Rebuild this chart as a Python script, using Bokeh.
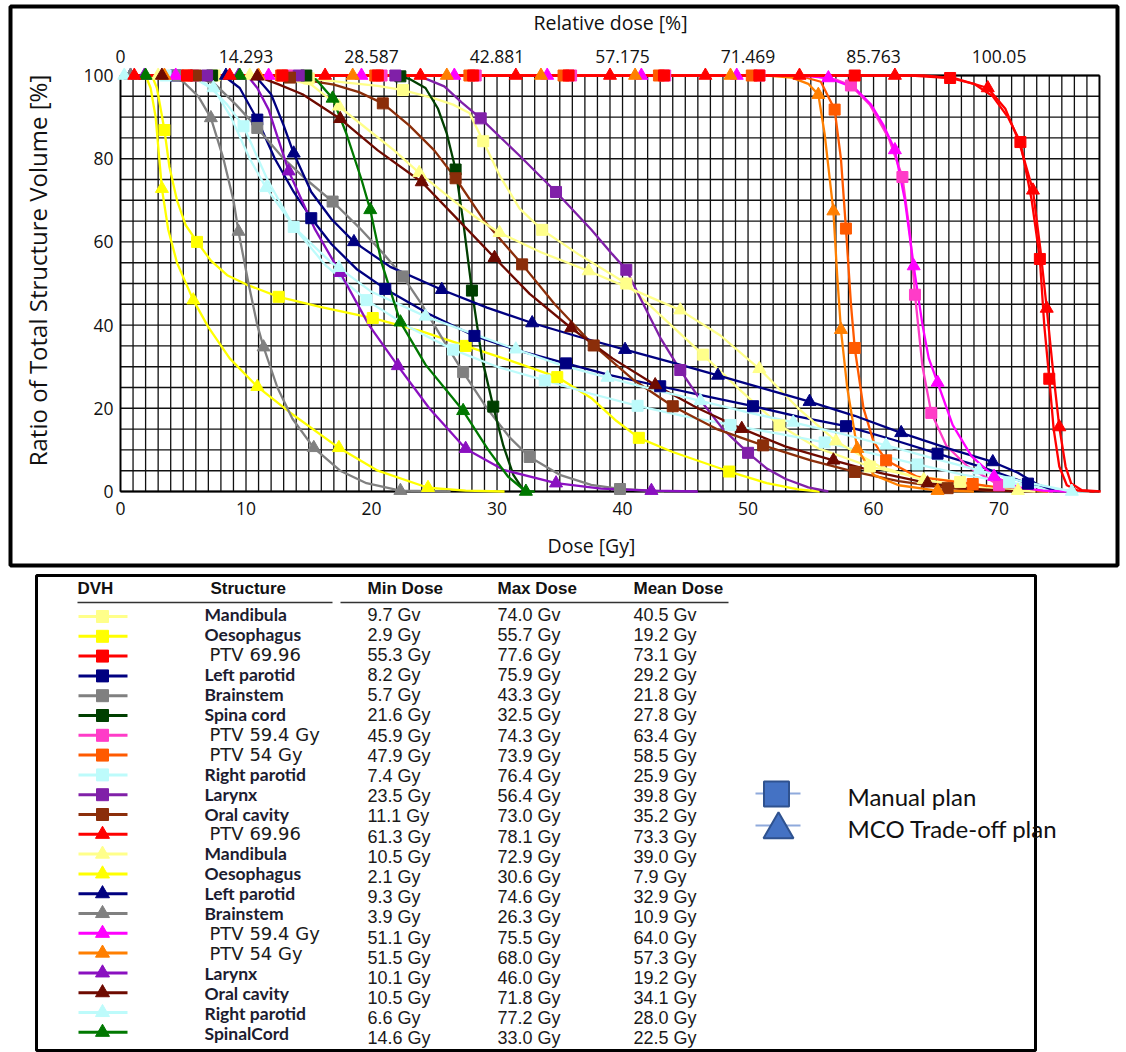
import numpy as np
from bokeh.plotting import figure
from bokeh.models import Range1d
from bokeh.core.properties import value
from bokeh.embed import file_html
from bokeh.resources import INLINE

# ---------------- chart values ----------------
DOSE_TICKS = [0, 10, 20, 30, 40, 50, 60, 70]
REL_DOSE_LABELS = ["0", "14.293", "28.587", "42.881", "57.175", "71.469", "85.763", "100.05"]
VOL_TICKS = [0, 20, 40, 60, 80, 100]
DOSE_MAX = 78
GRID_DOSE_STEP = 1
GRID_VOL_STEP = 5

STRUCTURES = ["Mandibula", "Oesophagus", "PTV 69.96", "Left parotid", "Brainstem", "Spina cord",
              "PTV 59.4 Gy", "PTV 54 Gy", "Right parotid", "Larynx", "Oral cavity",
              "PTV 69.96", "Mandibula", "Oesophagus", "Left parotid", "Brainstem", "PTV 59.4 Gy",
              "PTV 54 Gy", "Larynx", "Oral cavity", "Right parotid", "SpinalCord"]
PLANS = ["Manual"] * 11 + ["MCO"] * 11
MIN_DOSE = ["9.7 Gv", "2.9 Gy", "55.3 Gy", "8.2 Gy", "5.7 Gy", "21.6 Gy", "45.9 Gy", "47.9 Gy",
            "7.4 Gy", "23.5 Gy", "11.1 Gy", "61.3 Gy", "10.5 Gy", "2.1 Gy", "9.3 Gy", "3.9 Gy",
            "51.1 Gy", "51.5 Gy", "10.1 Gy", "10.5 Gy", "6.6 Gy", "14.6 Gy"]
MAX_DOSE = ["74.0 Gv", "55.7 Gy", "77.6 Gy", "75.9 Gy", "43.3 Gy", "32.5 Gy", "74.3 Gy", "73.9 Gy",
            "76.4 Gy", "56.4 Gy", "73.0 Gy", "78.1 Gy", "72.9 Gy", "30.6 Gy", "74.6 Gy", "26.3 Gy",
            "75.5 Gy", "68.0 Gy", "46.0 Gy", "71.8 Gy", "77.2 Gy", "33.0 Gy"]
MEAN_DOSE = ["40.5 Gv", "19.2 Gy", "73.1 Gy", "29.2 Gy", "21.8 Gy", "27.8 Gy", "63.4 Gy", "58.5 Gy",
             "25.9 Gy", "39.8 Gy", "35.2 Gy", "73.3 Gy", "39.0 Gy", "7.9 Gy", "32.9 Gy", "10.9 Gy",
             "64.0 Gy", "57.3 Gy", "19.2 Gy", "34.1 Gy", "28.0 Gy", "22.5 Gy"]
COLORS = ["#FFFF8A", "#FFFF00", "#FF0000", "#000080", "#808080", "#003F00", "#FF3CC8", "#FF5A00",
          "#BDFBFB", "#8020A8", "#8B2E0A",
          "#FF0000", "#FFFF8A", "#FFFF00", "#000080", "#808080", "#FF00FF", "#FF7F00",
          "#8A10C0", "#6E0A00", "#BDFBFB", "#007800"]

# DVH curves: (dose Gy, volume %)  -- manual plan
man_mandibula = [(0, 100), (12, 100), (15, 99.3), (18, 98.3), (20.5, 97.5), (22.5, 96.5), (25, 94.5),
                 (26.5, 93), (27.8, 91), (28.9, 84.2), (30.2, 76), (31.8, 68), (33.6, 62.9), (36.5, 57),
                 (40.3, 50.0), (43.5, 41), (46.4, 32.9), (49.5, 24), (52.5, 15.9), (55.5, 10.5),
                 (59.7, 6), (63, 3.8), (66.9, 2.3), (70.5, 0.6), (74.0, 0)]
man_mandibula_mk = [(7.5, 100), (15.0, 99.3), (22.5, 96.5), (28.9, 84.2), (33.6, 62.9), (40.3, 50.0),
                    (46.4, 32.9), (52.5, 15.9), (59.7, 6.0), (66.9, 2.3)]
man_oesophagus = [(0, 100), (2.5, 100), (2.9, 97), (3.2, 92), (3.5, 86.9), (3.9, 78), (4.5, 70), (5.2, 64),
                  (6.1, 60.0), (7.2, 55.5), (8.5, 52), (10, 49.8), (12.6, 46.8), (16, 44.3), (20.1, 41.7),
                  (24, 38.5), (27.5, 35.0), (31, 31.5), (34.8, 27.5), (37.5, 22.5), (39.5, 17),
                  (41.3, 12.9), (44, 9.5), (48.5, 4.8), (51.5, 2), (54, 0.5), (55.7, 0)]
man_oesophagus_mk = [(3.5, 86.9), (6.1, 60.0), (12.6, 46.8), (20.1, 41.7), (27.5, 35.0), (34.8, 27.5),
                     (41.3, 12.9), (48.5, 4.8)]
man_ptv70 = [(0, 100), (63, 100), (66.1, 99.4), (68, 98), (69.5, 95), (70.7, 90), (71.7, 84.0), (72.6, 70),
             (73.25, 55.9), (73.6, 40), (74.0, 27.1), (74.35, 15), (74.8, 6), (75.4, 1.5), (76.3, 0.2),
             (77.6, 0)]
man_ptv70_mk = [(5.3, 100), (12.9, 100), (20.5, 100), (28.1, 100), (35.7, 100), (43.3, 100), (50.9, 100),
                (58.5, 100), (66.1, 99.4), (71.7, 84.0), (73.25, 55.9), (74.0, 27.1)]
man_lparotid = [(0, 100), (8.2, 100), (9.5, 97), (10.9, 89.4), (12.3, 80), (13.8, 72), (15.2, 65.7),
                (16.8, 59.5), (18.8, 53.5), (21.1, 48.7), (24.5, 42.8), (28.2, 37.4), (31.8, 33.8),
                (35.5, 30.8), (39, 28), (43.0, 25.3), (46.8, 22.8), (50.4, 20.5), (54, 18), (57.8, 15.7),
                (61.5, 12.5), (65.1, 9.1), (68.7, 5.8), (72.3, 1.9), (74.3, 0.4), (75.9, 0)]
man_lparotid_mk = [(4.4, 100), (10.9, 89.4), (15.2, 65.7), (21.1, 48.7), (28.2, 37.4), (35.5, 30.8),
                   (43.0, 25.3), (50.4, 20.5), (57.8, 15.7), (65.1, 9.1), (72.3, 1.9)]
man_brainstem = [(0, 100), (5.7, 100), (7.5, 98), (9.2, 93), (10.9, 87.4), (13, 80), (14.8, 75), (16.9, 69.7),
                 (19, 63.5), (21, 57), (22.5, 51.7), (24, 45), (25.6, 37), (27.3, 28.7), (29.2, 20),
                 (31, 13), (32.6, 8.3), (35, 4), (37.5, 1.6), (39.8, 0.6), (43.3, 0)]
man_brainstem_mk = [(4.6, 100), (10.9, 87.4), (16.9, 69.7), (22.5, 51.7), (27.3, 28.7), (32.6, 8.3),
                    (39.8, 0.6)]
man_spinalcord = [(0, 100), (21.6, 100), (23, 99.2), (24.3, 97), (25.3, 92), (26, 86), (26.7, 77.4),
                  (27.3, 65), (28.0, 48.3), (28.8, 32), (29.7, 20.4), (30.5, 11), (31.3, 4), (32, 0.8),
                  (32.5, 0)]
man_spinalcord_mk = [(7.3, 100), (14.8, 100), (22.3, 99.8), (26.7, 77.4), (28.0, 48.3), (29.7, 20.4)]
man_ptv59 = [(0, 100), (55, 100), (57, 99), (58.2, 97.6), (59.7, 93), (61.2, 85), (62.3, 75.6), (62.9, 62),
             (63.3, 47.3), (63.9, 30), (64.6, 18.9), (65.8, 11), (67.5, 6), (70.0, 1.5), (72.5, 0.3),
             (74.3, 0)]
man_ptv59_mk = [(5.8, 100), (13.3, 100), (20.8, 100), (28.3, 100), (35.9, 100), (43.4, 100), (50.9, 100),
                (58.2, 97.6), (62.3, 75.6), (63.3, 47.3), (64.6, 18.9), (70.0, 1.5)]
man_ptv54 = [(0, 100), (54, 100), (55.8, 98.5), (56.9, 91.8), (57.4, 80), (57.8, 63.2), (58.2, 45),
             (58.5, 34.5), (59.2, 20), (60, 12), (61.0, 7.5), (63.5, 3.5), (67.9, 1.8), (71, 0.5), (73.9, 0)]
man_ptv54_mk = [(5.3, 100), (12.8, 100), (20.3, 100), (27.8, 100), (35.3, 100), (42.9, 100), (50.3, 100),
                (56.9, 91.8), (57.8, 63.2), (58.5, 34.5), (61.0, 7.5), (67.9, 1.8)]
man_rparotid = [(0, 100), (5.5, 100), (7.2, 97), (8.5, 93), (9.8, 87.8), (11.7, 75), (13.8, 63.6),
                (16.3, 54.5), (19.6, 46.0), (23, 39.5), (26.5, 34.1), (30, 30), (33.8, 26.7), (37.5, 23.5),
                (41.2, 20.6), (44.8, 18.2), (48.6, 16.0), (52.4, 13.9), (56.1, 11.8), (59.8, 9.2),
                (63.5, 6.5), (67.2, 4), (70.8, 2.2), (74, 0.6), (76.4, 0)]
man_rparotid_mk = [(3.6, 100), (9.8, 87.8), (13.8, 63.6), (19.6, 46.0), (26.5, 34.1), (33.8, 26.7),
                   (41.2, 20.6), (48.6, 16.0), (56.1, 11.8), (63.5, 6.5), (70.8, 2.2)]
man_larynx = [(0, 100), (23.5, 100), (24.5, 99), (25.8, 97.4), (27.2, 93.5), (28.7, 89.7), (31.7, 81),
              (34.7, 72.0), (37.5, 63), (39.2, 57), (40.3, 53.3), (41.5, 46), (43, 37), (44.6, 29.2),
              (46.2, 22), (48, 15), (50.0, 9.3), (51.5, 5.5), (53, 3), (54.8, 1), (56.4, 0)]
man_larynx_mk = [(6.9, 100), (14.2, 100), (21.9, 100), (28.7, 89.7), (34.7, 72.0), (40.3, 53.3),
                 (44.6, 29.2), (50.0, 9.3)]
man_oralcavity = [(0, 100), (11.1, 100), (13.5, 99.5), (17, 97.8), (19, 96), (20.9, 93.3), (23, 88), (25, 82),
                  (26.7, 75.3), (29, 65), (32.0, 54.6), (34.6, 45), (37.7, 35.1), (40.8, 27), (44.0, 20.5),
                  (47.5, 15), (51.2, 11.1), (55, 7.5), (58.5, 4.7), (62, 2.5), (65.9, 0.8), (69, 0.2),
                  (73.0, 0)]
man_oralcavity_mk = [(6.0, 100), (13.5, 99.5), (20.9, 93.3), (26.7, 75.3), (32.0, 54.6), (37.7, 35.1),
                     (44.0, 20.5), (51.2, 11.1), (58.5, 4.7), (65.9, 0.8)]

# -- MCO trade-off plan
mco_ptv70 = [(0, 100), (64, 100), (66.5, 99.3), (69.1, 97), (70.5, 92), (71.6, 84), (72.7, 72.4), (73.3, 58),
             (73.8, 44), (74.3, 29), (74.8, 15.5), (75.3, 6), (75.75, 1.9), (76.6, 0.3), (78.1, 0)]
mco_ptv70_mk = [(1.1, 100), (8.7, 100), (16.3, 100), (23.9, 100), (31.5, 100), (39.0, 100), (46.6, 100),
                (54.1, 100), (61.7, 100), (69.1, 97), (72.7, 72.4), (73.8, 44), (74.8, 15.5)]
mco_mandibula = [(0, 100), (10.5, 100), (13, 99.3), (15.2, 97.8), (17.4, 92.6), (19.5, 87.5), (21.8, 82),
                 (23.8, 76.6), (26.5, 70), (28.5, 65.5), (30.2, 62.2), (33.5, 57.5), (37.3, 53.0),
                 (41, 48.3), (44.6, 43.6), (47.8, 37.5), (50.9, 29.5), (54, 20), (57.0, 12.1), (60.5, 6),
                 (64.0, 2.8), (68, 1), (71.5, 0.2), (72.9, 0)]
mco_mandibula_mk = [(3.0, 100), (10.3, 100), (17.4, 92.6), (23.8, 76.6), (30.2, 62.2), (37.3, 53.0),
                    (44.6, 43.6), (50.9, 29.5), (57.0, 12.1), (64.0, 2.8), (71.5, 0.2)]
mco_oesophagus = [(0, 100), (2.0, 100), (2.4, 97), (2.8, 90), (3.3, 72.8), (3.8, 63), (4.5, 55), (5.8, 46.0),
                  (7, 39.5), (8.7, 32), (10.9, 25.2), (13.5, 19), (17.4, 10.5), (20.5, 5), (24.5, 0.9),
                  (27.5, 0.2), (30.6, 0)]
mco_oesophagus_mk = [(3.3, 72.8), (5.8, 46.0), (10.9, 25.2), (17.4, 10.5), (24.5, 0.9)]
mco_lparotid = [(0, 100), (10, 100), (11, 99), (12, 95.5), (13, 88), (13.8, 81.3), (15.2, 72), (16.8, 65.5),
                (18.6, 60.0), (21.5, 54), (25.6, 48.5), (29.2, 44.2), (32.8, 40.5), (36.5, 37.2),
                (40.2, 34.1), (44, 31), (47.6, 27.9), (51.2, 24.8), (54.9, 21.6), (58.5, 18.2),
                (62.2, 14.1), (66, 10.3), (69.5, 7.1), (71.5, 4.5), (73, 1.8), (74.6, 0)]
mco_lparotid_mk = [(0.8, 100), (8.4, 100), (13.8, 81.3), (18.6, 60.0), (25.6, 48.5), (32.8, 40.5),
                   (40.2, 34.1), (47.6, 27.9), (54.9, 21.6), (62.2, 14.1), (69.5, 7.1)]
mco_brainstem = [(0, 100), (3.9, 100), (5, 98.5), (6.2, 95), (7.2, 89.8), (8.2, 80), (9.0, 70), (9.4, 62.5),
                 (10.2, 50), (10.9, 40), (11.4, 34.7), (12.5, 25), (13.7, 17.5), (15.4, 10.5), (17.5, 5),
                 (19.6, 2), (22.3, 0.2), (26.3, 0)]
mco_brainstem_mk = [(0.8, 100), (7.2, 89.8), (9.4, 62.5), (11.4, 34.7), (15.4, 10.5), (22.3, 0.2)]
mco_ptv59 = [(0, 100), (53.5, 100), (55, 99.8), (56.4, 99.4), (58.5, 97), (59.8, 93), (60.8, 88),
             (61.7, 82.1), (62.5, 70), (63.2, 54.2), (63.9, 40), (64.4, 32), (65.1, 26.2), (66.3, 16),
             (67.8, 8.5), (69.6, 3.6), (71.5, 1), (73.5, 0.2), (75.5, 0)]
mco_ptv59_mk = [(4.4, 100), (11.8, 100), (19.2, 100), (26.6, 100), (34.0, 100), (41.5, 100), (49.1, 100),
                (56.4, 99.4), (61.7, 82.1), (63.2, 54.2), (65.1, 26.2), (69.6, 3.6)]
mco_ptv54 = [(0, 100), (51.5, 100), (53.5, 99.5), (54.8, 98), (55.6, 95.4), (56.1, 86), (56.8, 67.4),
             (57.1, 52), (57.4, 38.9), (57.9, 25), (58.7, 10.3), (60, 4), (62, 1.5), (65.1, 0.2), (68.0, 0)]
mco_ptv54_mk = [(3.5, 100), (11.0, 100), (18.5, 100), (26.0, 100), (33.5, 100), (41.0, 100), (48.6, 100),
                (55.6, 95.4), (56.8, 67.4), (57.4, 38.9), (58.7, 10.3), (65.1, 0.2)]
mco_larynx = [(0, 100), (10.1, 100), (10.9, 97), (11.8, 91.8), (13.4, 77.0), (15.5, 63), (17.5, 52.6),
              (19.8, 40), (22.1, 30.2), (24.6, 20), (27.5, 10.3), (30.5, 5.2), (34.7, 2.0), (38.3, 0.7),
              (42.3, 0.2), (46.0, 0)]
mco_larynx_mk = [(1.9, 100), (9.4, 100), (13.4, 77.0), (17.5, 52.6), (22.1, 30.2), (27.5, 10.3),
                 (34.7, 2.0), (42.3, 0.2)]
mco_oralcavity = [(0, 100), (10.5, 100), (12.5, 98), (14.5, 95.5), (17.5, 89.6), (20.5, 82), (24.0, 74.4),
                  (27, 65), (29.8, 56.2), (32.6, 47.5), (35.9, 39.3), (39.2, 32), (42.6, 25.6), (46, 20),
                  (49.5, 15.1), (53, 10.8), (56.8, 7.5), (60.5, 4.5), (64.3, 2), (68, 0.6), (71.8, 0)]
mco_oralcavity_mk = [(3.3, 100), (10.9, 99.8), (17.5, 89.6), (24.0, 74.4), (29.8, 56.2), (35.9, 39.3),
                     (42.6, 25.6), (49.5, 15.1), (56.8, 7.5), (64.3, 2.0)]
mco_rparotid = [(0, 100), (5.0, 100), (6.2, 99), (7.4, 97.0), (8.8, 90), (10.3, 80), (11.6, 73.0), (14, 63),
                (16.8, 55), (20, 48), (24.3, 42.1), (28, 38), (31.5, 34.2), (35, 30.5), (38.8, 27.4),
                (42.5, 24.5), (46.2, 21.8), (50, 19), (53.6, 16.6), (57.3, 14), (61.0, 11.1), (64.7, 8),
                (68.4, 5.1), (72, 2.3), (75.8, 0), (77.2, 0)]
mco_rparotid_mk = [(0.3, 100), (7.4, 97.0), (11.6, 73.0), (17.4, 53.8), (24.3, 42.1), (31.5, 34.2),
                   (38.8, 27.4), (46.2, 21.8), (53.6, 16.6), (61.0, 11.1), (68.4, 5.1), (75.8, 0)]
mco_spinalcord = [(0, 100), (14.6, 100), (15.6, 99), (16.9, 94.5), (18, 86), (19.2, 75), (19.9, 67.7),
                  (20.8, 55), (22.3, 40.7), (24.3, 30.5), (27.3, 19.4), (29.3, 10), (30.9, 3.5), (32.3, 0),
                  (33.0, 0)]
mco_spinalcord_mk = [(2.0, 100), (9.5, 100), (16.9, 94.5), (19.9, 67.7), (22.3, 40.7), (27.3, 19.4),
                     (32.3, 0)]

CURVES = [man_mandibula, man_oesophagus, man_ptv70, man_lparotid, man_brainstem, man_spinalcord,
          man_ptv59, man_ptv54, man_rparotid, man_larynx, man_oralcavity,
          mco_ptv70, mco_mandibula, mco_oesophagus, mco_lparotid, mco_brainstem, mco_ptv59, mco_ptv54,
          mco_larynx, mco_oralcavity, mco_rparotid, mco_spinalcord]
MARKS = [man_mandibula_mk, man_oesophagus_mk, man_ptv70_mk, man_lparotid_mk, man_brainstem_mk,
         man_spinalcord_mk, man_ptv59_mk, man_ptv54_mk, man_rparotid_mk, man_larynx_mk, man_oralcavity_mk,
         mco_ptv70_mk, mco_mandibula_mk, mco_oesophagus_mk, mco_lparotid_mk, mco_brainstem_mk,
         mco_ptv59_mk, mco_ptv54_mk, mco_larynx_mk, mco_oralcavity_mk, mco_rparotid_mk, mco_spinalcord_mk]
LEGEND_LABELS = ["Manual plan", "MCO Trade-off plan"]

# ---------------- layout ----------------
W, H = 1126, 1052
X0_PX, PX_PER_GY = 120.0, 12.551     # where 0 Gy sits, pixels per Gy
Y100_PX, PX_PER_PCT = 75.0, 4.16     # where 100 % sits, pixels per %

x_start = -X0_PX / PX_PER_GY
x_end = x_start + W / PX_PER_GY
y_end = 100 + Y100_PX / PX_PER_PCT
y_start = y_end - H / PX_PER_PCT

p = figure(width=W, height=H, output_backend="svg", toolbar_location=None, title=None,
           x_range=Range1d(x_start, x_end), y_range=Range1d(y_start, y_end),
           x_axis_type=None, y_axis_type=None, min_border=0,
           outline_line_color=None, background_fill_color="white", border_fill_color="white")
p.extra_x_ranges = {"px": Range1d(0, W)}
p.extra_y_ranges = {"px": Range1d(H, 0)}

AX_FONT = value("Open Sans")
PX = dict(x_range_name="px", y_range_name="px")

# outer frame of the DVH panel
p.quad(left=[10], right=[1117], top=[6], bottom=[565], fill_color=None,
       line_color="black", line_width=4, **PX)

# grid
gx = list(np.arange(0, DOSE_MAX + 0.5, GRID_DOSE_STEP))
gy = list(np.arange(0, 100.5, GRID_VOL_STEP))
p.segment(x0=gx, y0=0, x1=gx, y1=100, line_color="#111111", line_width=1.3)
p.segment(x0=0, y0=gy, x1=DOSE_MAX, y1=gy, line_color="#111111", line_width=1.4)
p.segment(x0=[0, DOSE_MAX], y0=0, x1=[0, DOSE_MAX], y1=100, line_color="black", line_width=1.8)
p.segment(x0=0, y0=[0, 100], x1=DOSE_MAX, y1=[0, 100], line_color="black", line_width=1.8)

# tick labels
p.text(x=DOSE_TICKS, y=[508] * len(DOSE_TICKS), text=[str(t) for t in DOSE_TICKS],
       y_range_name="px", text_font=AX_FONT, text_font_size="17.5px", text_align="center",
       text_baseline="middle", text_color="#111111")
p.text(x=DOSE_TICKS, y=[56] * len(DOSE_TICKS), text=REL_DOSE_LABELS,
       y_range_name="px", text_font=AX_FONT, text_font_size="17.5px", text_align="center",
       text_baseline="middle", text_color="#111111")
p.text(x=[113] * len(VOL_TICKS), y=VOL_TICKS, text=[str(t) for t in VOL_TICKS],
       x_range_name="px", text_font=AX_FONT, text_font_size="17.5px", text_align="right",
       text_baseline="middle", text_color="#111111")
# axis titles
p.text(x=[610], y=[22], text=["Relative dose [%]"], text_font=AX_FONT, text_font_size="19.5px",
       text_align="center", text_baseline="middle", text_color="#111111", **PX)
p.text(x=[591], y=[545], text=["Dose [Gy]"], text_font=AX_FONT, text_font_size="19.5px",
       text_align="center", text_baseline="middle", text_color="#111111", **PX)
p.text(x=[37], y=[270], text=["Ratio of Total Structure Volume [%]"], angle=np.pi / 2,
       text_font=AX_FONT, text_font_size="24px", text_align="center", text_baseline="middle",
       text_color="#111111", **PX)


def merged(shape, marks):
    pts = sorted(set(shape) | set(marks), key=lambda t: (t[0], -t[1]))
    return [t[0] for t in pts], [t[1] for t in pts]


order = [i for i in range(len(CURVES)) if COLORS[i] != "#FF0000"] + \
        [i for i in range(len(CURVES)) if COLORS[i] == "#FF0000"]
for i in order:
    xs, ys = merged(CURVES[i], MARKS[i])
    p.line(xs, ys, line_color=COLORS[i], line_width=2.3, line_join="round")
for i in order:
    mx = [m[0] for m in MARKS[i]]
    my = [m[1] for m in MARKS[i]]
    if PLANS[i] == "Manual":
        p.scatter(mx, my, marker="square", size=11, fill_color=COLORS[i], line_color=COLORS[i])
    else:
        p.scatter(mx, my, marker="triangle", size=13, fill_color=COLORS[i], line_color=COLORS[i])

# ---------------- table ----------------
p.quad(left=[36], right=[1035], top=[575], bottom=[1050], fill_color=None,
       line_color="black", line_width=3, **PX)
HDR_FONT = value("Liberation Sans")
p.text(x=[77, 210, 367, 497, 633], y=[588] * 5,
       text=["DVH", "Structure", "Min Dose", "Max Dose", "Mean Dose"],
       text_font=HDR_FONT, text_font_style="bold", text_font_size="17px", text_align="left",
       text_baseline="middle", text_color="#111111", **PX)
p.segment(x0=[77, 340], y0=[602, 602], x1=[332, 728], y1=[602, 602], line_color="#333333",
          line_width=1.5, **PX)

n = len(STRUCTURES)
row_y = [614 + k * 20.19 for k in range(n)]
name_y = [614 + k * 19.95 for k in range(n)]
sw_y = [616 + k * 19.8 for k in range(n)]

p.text(x=[367] * n, y=row_y, text=MIN_DOSE, text_font=HDR_FONT, text_font_size="18px",
       text_align="left", text_baseline="middle", text_color="#1a1a1a", **PX)
p.text(x=[497] * n, y=row_y, text=MAX_DOSE, text_font=HDR_FONT, text_font_size="18px",
       text_align="left", text_baseline="middle", text_color="#1a1a1a", **PX)
p.text(x=[633] * n, y=row_y, text=MEAN_DOSE, text_font=HDR_FONT, text_font_size="18px",
       text_align="left", text_baseline="middle", text_color="#1a1a1a", **PX)

ptv_idx = [k for k in range(n) if STRUCTURES[k].startswith("PTV")]
oth_idx = [k for k in range(n) if not STRUCTURES[k].startswith("PTV")]
p.text(x=[204] * len(oth_idx), y=[name_y[k] for k in oth_idx], text=[STRUCTURES[k] for k in oth_idx],
       text_font=value("Lato"), text_font_style="bold", text_font_size="17.5px", text_align="left",
       text_baseline="middle", text_color="#1c1c30", **PX)
p.text(x=[209] * len(ptv_idx), y=[name_y[k] for k in ptv_idx], text=[STRUCTURES[k] for k in ptv_idx],
       text_font=value("DejaVu Sans"), text_font_size="18px", text_align="left",
       text_baseline="middle", text_color="#1a1a1a", **PX)

for k in range(n):
    p.segment(x0=[78], y0=[sw_y[k]], x1=[127], y1=[sw_y[k]], line_color=COLORS[k], line_width=3, **PX)
    mk = "square" if PLANS[k] == "Manual" else "triangle"
    p.scatter([102], [sw_y[k]], marker=mk, size=12 if mk == "square" else 14,
              fill_color=COLORS[k], line_color=COLORS[k], **PX)

# plan legend
p.segment(x0=[755, 755], y0=[793, 825], x1=[800, 800], y1=[793, 825], line_color="#8FAADC",
          line_width=2, **PX)
p.scatter([776], [793.5], marker="square", size=25, fill_color="#4472C4", line_color="#2F528F",
          line_width=2, **PX)
p.scatter([778], [829], marker="triangle", size=30, fill_color="#4472C4", line_color="#2F528F",
          line_width=2, **PX)
p.text(x=[847, 847], y=[796, 828], text=LEGEND_LABELS, text_font=value("Lato"),
       text_font_size="24px", text_align="left", text_baseline="middle", text_color="#111111", **PX)

open("out.html", "w").write(file_html(p, INLINE))
